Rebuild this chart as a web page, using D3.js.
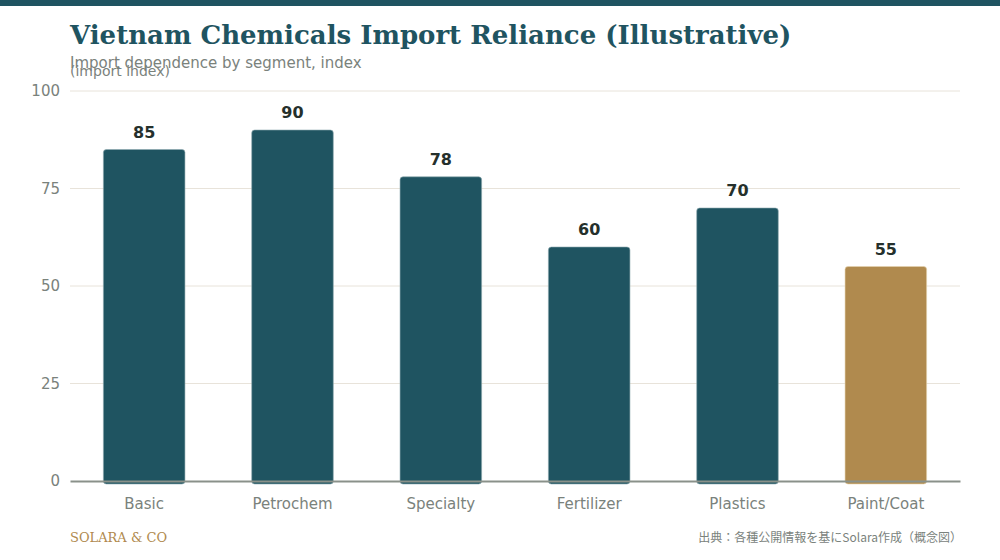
<!DOCTYPE html>
<html>
<head>
<meta charset="utf-8">
<script src="https://cdn.jsdelivr.net/npm/d3@7"></script>
<style>
  body { margin: 0; background: #fff; }
  svg { display: block; }
</style>
</head>
<body>
<svg id="chart"></svg>
<script>
// chart data
const segments = ["Basic", "Petrochem", "Specialty", "Fertilizer", "Plastics", "Paint/Coat"];
const importIndex = [85, 90, 78, 60, 70, 55];
const yTicks = [0, 25, 50, 75, 100];
const highlightSegment = "Paint/Coat";

const width = 1000, height = 560;
const margin = { top: 91, right: 40, bottom: 79, left: 70 };

const svg = d3.select("#chart")
    .attr("width", width)
    .attr("height", height);

const data = segments.map((s, i) => ({ segment: s, value: importIndex[i] }));

// top band
svg.append("rect")
    .attr("x", 0).attr("y", 0)
    .attr("width", width).attr("height", 6)
    .attr("fill", "#1f5461");

const xScale = d3.scaleBand()
    .domain(segments)
    .range([margin.left, width - margin.right])
    .paddingInner(0.45)
    .paddingOuter(0.225);

const yScale = d3.scaleLinear()
    .domain([0, 100])
    .range([height - margin.bottom, margin.top]);

// gridlines
svg.append("g")
    .selectAll("line")
    .data(yTicks.filter(t => t > 0))
    .enter()
    .append("line")
    .attr("x1", margin.left)
    .attr("x2", width - margin.right)
    .attr("y1", d => yScale(d))
    .attr("y2", d => yScale(d))
    .attr("stroke", "#e8e3da")
    .attr("stroke-width", 1);

// y axis labels
const yAxis = svg.append("g")
    .attr("transform", `translate(${margin.left},0)`)
    .call(d3.axisLeft(yScale).tickValues(yTicks).tickSize(0).tickPadding(10));
yAxis.select(".domain").remove();
yAxis.selectAll("text")
    .attr("font-family", "DejaVu Sans, sans-serif")
    .attr("font-size", 15)
    .attr("fill", "#7a827c");

// bars
svg.selectAll(".bar")
    .data(data)
    .enter()
    .append("rect")
    .attr("class", "bar")
    .attr("x", d => xScale(d.segment))
    .attr("y", d => yScale(d.value))
    .attr("width", xScale.bandwidth())
    .attr("height", d => yScale(0) - yScale(d.value) + 3)
    .attr("rx", 3)
    .attr("fill", d => d.segment === highlightSegment ? "#b08a4e" : "#1f5461")
    .attr("stroke", d => d.segment === highlightSegment ? "#e6d3b0" : "#8fa9b0")
    .attr("stroke-width", 0.6);

// value labels
svg.selectAll(".val")
    .data(data)
    .enter()
    .append("text")
    .attr("class", "val")
    .attr("x", d => xScale(d.segment) + xScale.bandwidth() / 2)
    .attr("y", d => yScale(d.value) - 12)
    .attr("text-anchor", "middle")
    .attr("font-family", "DejaVu Sans, sans-serif")
    .attr("font-weight", "bold")
    .attr("font-size", 16)
    .attr("fill", "#25302c")
    .text(d => d.value);

// baseline + x axis
const xAxis = svg.append("g")
    .attr("transform", `translate(0,${height - margin.bottom})`)
    .call(d3.axisBottom(xScale).tickSize(0).tickPadding(17));
xAxis.select(".domain")
    .attr("stroke", "#8a918a")
    .attr("stroke-width", 2);
xAxis.selectAll("text")
    .attr("font-family", "DejaVu Sans, sans-serif")
    .attr("font-size", 15)
    .attr("fill", "#7a827c");

// title
svg.append("text")
    .attr("x", 70)
    .attr("y", 44)
    .attr("font-family", "DejaVu Serif, serif")
    .attr("font-weight", "bold")
    .attr("font-size", 26)
    .attr("fill", "#1f5461")
    .text("Vietnam Chemicals Import Reliance (Illustrative)");

svg.append("text")
    .attr("x", 70)
    .attr("y", 68)
    .attr("font-family", "DejaVu Sans, sans-serif")
    .attr("font-size", 15)
    .attr("fill", "#7a827c")
    .text("Import dependence by segment, index");

svg.append("text")
    .attr("x", 70)
    .attr("y", 76)
    .attr("font-family", "DejaVu Sans, sans-serif")
    .attr("font-size", 14)
    .attr("fill", "#7a827c")
    .text("(import index)");

// footer
svg.append("text")
    .attr("x", 70)
    .attr("y", 542)
    .attr("font-family", "DejaVu Serif, serif")
    .attr("font-size", 13)
    .attr("fill", "#b08a4e")
    .text("SOLARA & CO");

svg.append("text")
    .attr("x", 962)
    .attr("y", 542)
    .attr("text-anchor", "end")
    .attr("font-family", "Noto Sans CJK JP, sans-serif")
    .attr("font-size", 12)
    .attr("fill", "#7a827c")
    .text("出典：各種公開情報を基にSolara作成（概念図）");
</script>
</body>
</html>
